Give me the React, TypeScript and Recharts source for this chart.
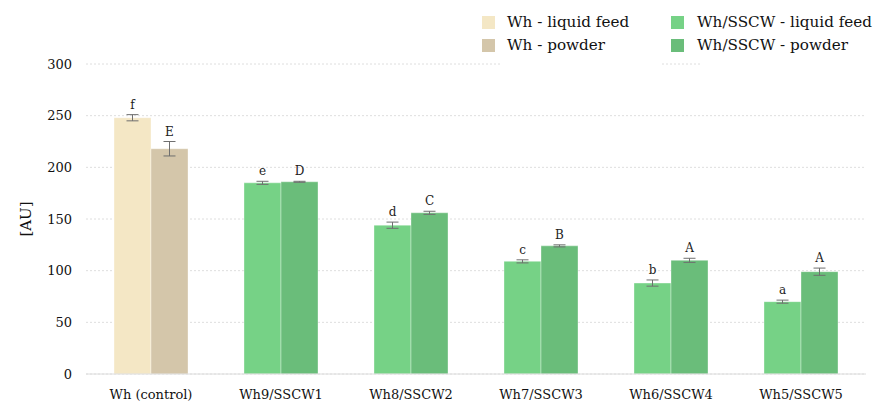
import React from 'react'
import { BarChart, Bar, XAxis, YAxis, CartesianGrid, ErrorBar, LabelList, Cell } from 'recharts'

const categories = ['Wh (control)', 'Wh9/SSCW1', 'Wh8/SSCW2', 'Wh7/SSCW3', 'Wh6/SSCW4', 'Wh5/SSCW5']
const liquidFeed = [248, 185, 144, 109, 88, 70]
const powder = [218, 186, 156, 124, 110, 99]
const liquidErr = [3, 1.5, 3, 1.5, 3, 1.5]
const powderErr = [7, 0.5, 1.5, 1, 2, 3.5]
const liquidLetters = ['f', 'e', 'd', 'c', 'b', 'a']
const powderLetters = ['E', 'D', 'C', 'B', 'A', 'A']
const yTicks = [0, 50, 100, 150, 200, 250, 300]

const legendNames = ['Wh - liquid feed', 'Wh - powder', 'Wh/SSCW - liquid feed', 'Wh/SSCW - powder']
const colors = {
  whLiquid: '#f4e7c5',
  whPowder: '#d4c6aa',
  sscwLiquid: '#76d286',
  sscwPowder: '#6abd7a',
}
const legendColors = [colors.whLiquid, colors.whPowder, colors.sscwLiquid, colors.sscwPowder]

const data = categories.map((name, i) => ({
  name,
  liquid: liquidFeed[i],
  powder: powder[i],
  liquidErr: liquidErr[i],
  powderErr: powderErr[i],
  liquidLetter: liquidLetters[i],
  powderLetter: powderLetters[i],
}))

const FONT = '"DejaVu Serif", serif'

// letter sits just above the top of the error bar
const letterLabel = (valueKey: 'liquid' | 'powder', errKey: 'liquidErr' | 'powderErr') => (props: any) => {
  const { x, y, width, height, value, index } = props
  const row = data[index]
  const errPx = (row[errKey] / row[valueKey]) * height
  return (
    <text x={x + width / 2} y={y - errPx - 6} textAnchor="middle" fontSize={12} fontFamily={FONT} fill="#222">
      {value}
    </text>
  )
}

// two-column legend drawn over the top right corner, white boxes hide the top gridline
function LegendBox() {
  const cols = [
    { left: 4, textLeft: 29, items: [0, 1] },
    { left: 193, textLeft: 219, items: [2, 3] },
  ]
  return (
    <div style={{ position: 'absolute', left: 478, top: 0, width: 398, height: 66, fontFamily: FONT, fontSize: 15.2, color: '#111' }}>
      <div style={{ position: 'absolute', left: 22, top: 0, width: 162, height: 66, background: '#fff' }} />
      <div style={{ position: 'absolute', left: 222, top: 0, width: 176, height: 66, background: '#fff' }} />
      {cols.map((c) =>
        c.items.map((k, r) => (
          <React.Fragment key={k}>
            <div style={{ position: 'absolute', left: c.left, top: 16 + r * 23, width: 13, height: 13, background: legendColors[k] }} />
            <div style={{ position: 'absolute', left: c.textLeft, top: 12 + r * 23, whiteSpace: 'nowrap', lineHeight: '20px' }}>
              {legendNames[k]}
            </div>
          </React.Fragment>
        ))
      )}
    </div>
  )
}

export default function App() {
  return (
    <div style={{ position: 'absolute', left: 0, top: 0, width: 876, height: 403, background: '#fff', overflow: 'hidden' }}>
      <BarChart
        width={876}
        height={403}
        data={data}
        margin={{ top: 64, right: 10, bottom: 0, left: 0 }}
        barCategoryGap={28}
        barGap={0}
      >
        <CartesianGrid vertical={false} stroke="#dedede" strokeDasharray="2 2" />
        <XAxis
          dataKey="name"
          height={29}
          tickLine={false}
          axisLine={{ stroke: '#dcdcdc' }}
          tickMargin={10}
          tick={{ fontSize: 13, fontFamily: FONT, fill: '#111' }}
          interval={0}
        />
        <YAxis
          width={86}
          domain={[0, 300]}
          ticks={yTicks}
          axisLine={false}
          tickLine={false}
          tickMargin={8}
          tick={{ fontSize: 13, fontFamily: FONT, fill: '#111' }}
          label={{ value: '[AU]', angle: -90, position: 'insideLeft', offset: 26, style: { fontSize: 15, fontFamily: FONT, fill: '#111', textAnchor: 'middle' } }}
        />
        <Bar dataKey="liquid" isAnimationActive={false} stroke="rgba(255,255,255,0.35)" strokeWidth={1}>
          {data.map((_, i) => (
            <Cell key={i} fill={i === 0 ? colors.whLiquid : colors.sscwLiquid} />
          ))}
          <ErrorBar dataKey="liquidErr" width={6} stroke="#6f6f6f" strokeWidth={1} />
          <LabelList dataKey="liquidLetter" content={letterLabel('liquid', 'liquidErr')} />
        </Bar>
        <Bar dataKey="powder" isAnimationActive={false} stroke="rgba(255,255,255,0.35)" strokeWidth={1}>
          {data.map((_, i) => (
            <Cell key={i} fill={i === 0 ? colors.whPowder : colors.sscwPowder} />
          ))}
          <ErrorBar dataKey="powderErr" width={6} stroke="#6f6f6f" strokeWidth={1} />
          <LabelList dataKey="powderLetter" content={letterLabel('powder', 'powderErr')} />
        </Bar>
      </BarChart>
      <LegendBox />
    </div>
  )
}
